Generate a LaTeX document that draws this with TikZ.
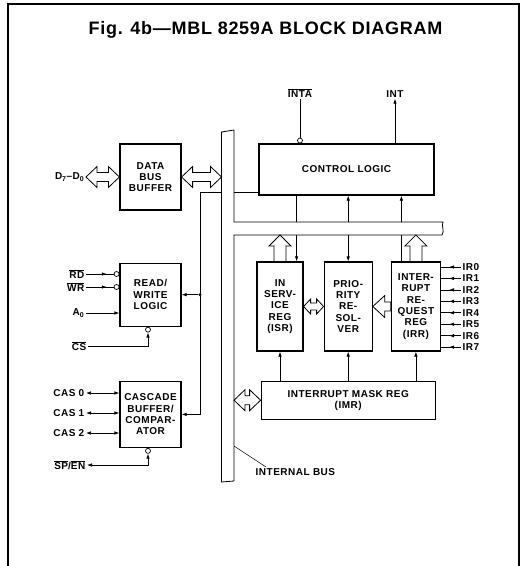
\documentclass[tikz,border=0pt]{standalone}
\usepackage{fontspec}
\usepackage{tikz}
\usetikzlibrary{arrows.meta, positioning, calc, decorations.markings}
\newfontfamily\lblfont[LetterSpace=5]{Liberation Sans}
\newfontfamily\titlefont[LetterSpace=4]{Liberation Sans}

% wide hollow arrows: {shaft half}{head half}{head length}
\tikzset{
    fatsgl/.style n args={3}{to path={let \p1=(\tikztostart), \p2=(\tikztotarget),
        \n1={atan2(\y2-\y1,\x2-\x1)}, \n2={veclen(\x2-\x1,\y2-\y1)} in
        {[shift={(\p1)}, rotate=\n1]
        (0,#1) -- ({\n2-#3},#1) -- ({\n2-#3},#2) -- (\n2,0)
        -- ({\n2-#3},-#2) -- ({\n2-#3},-#1) -- (0,-#1) -- cycle}}},
    fatdbl/.style n args={3}{to path={let \p1=(\tikztostart), \p2=(\tikztotarget),
        \n1={atan2(\y2-\y1,\x2-\x1)}, \n2={veclen(\x2-\x1,\y2-\y1)} in
        {[shift={(\p1)}, rotate=\n1]
        (0,0) -- (#3,#2) -- (#3,#1) -- ({\n2-#3},#1) -- ({\n2-#3},#2) -- (\n2,0)
        -- ({\n2-#3},-#2) -- ({\n2-#3},-#1) -- (#3,-#1) -- (#3,-#2) -- cycle}}},
}

\begin{document}
\begin{tikzpicture}[
    x=1pt, y=-1pt,
    >={Latex[length=5pt,width=3.5pt]},
    blk/.style={draw, line width=1.2pt, align=center, inner sep=0pt,
                font=\lblfont\bfseries\fontsize{10}{11.3}\selectfont},
    lbl/.style={inner sep=1.5pt, font=\lblfont\bfseries\fontsize{10}{11.3}\selectfont},
    wire/.style={line width=0.7pt},
    fat/.style={draw, fill=white, line width=0.8pt, line join=miter},
    bubble/.style={circle, draw, fill=white, line width=0.7pt, inner sep=0pt, minimum size=5pt},
    dot/.style={circle, fill, inner sep=0pt, minimum size=3.2pt},
    midarr/.style={postaction={decorate, decoration={markings,
                   mark=at position #1 with {\arrow{Latex[length=5pt,width=3.5pt]}}}}},
]
    \useasboundingbox (0,0) rectangle (522,566);
    \draw[line width=1.6pt] (8,566) -- (8,4) -- (519,4) -- (519,566);
    \node[font=\titlefont\bfseries\fontsize{18}{20}\selectfont, anchor=base] (title)
        at (265.5,34) {Fig. 4b—MBL 8259A BLOCK DIAGRAM};

    % blocks
    \node[blk, minimum width=61pt, minimum height=66pt] (dbb) at (150.5,177) {DATA\\BUS\\BUFFER};
    \node[blk, minimum width=61pt, minimum height=63pt, below=52pt of dbb] (rw) {READ/\\WRITE\\LOGIC};
    \node[blk, minimum width=61pt, minimum height=66pt, below=54pt of rw] (casbuf)
        {CASCADE\\BUFFER/\\COMPAR-\\ATOR};
    \node[blk, minimum width=175pt, minimum height=51pt] (ctrl) at (346.5,169.5) {CONTROL LOGIC};
    \node[blk, minimum width=46pt, minimum height=89pt] (isr) at (280,306.5) {IN\\SERV-\\ICE\\REG\\(ISR)};
    \node[blk, minimum width=48pt, minimum height=89pt, right=20pt of isr] (pr) {PRIO-\\RITY\\RE-\\SOL-\\VER};
    \node[blk, minimum width=49pt, minimum height=89pt, right=18pt of pr] (irr)
        {INTER-\\RUPT\\RE-\\QUEST\\REG\\(IRR)};
    \node[blk, minimum width=174pt, minimum height=38pt, below=29pt of pr] (imr)
        {INTERRUPT MASK REG\\(IMR)};

    % wires across the internal bus
    \coordinate (isrin) at ([xshift=-7pt]isr.north east);
    \coordinate (irrout) at ([xshift=-14.5pt]irr.north);
    \draw[wire, ->] (ctrl.south -| isrin) -- (isrin);
    \draw[wire, <->] (ctrl.south -| pr.north) -- (pr.north);
    \draw[wire, ->] (irrout) -- (ctrl.south -| irrout);

    % internal bus
    \coordinate (busw) at (221.5,300);
    \coordinate (buse) at (234,300);
    \coordinate (hbuss) at (300,235);
    \draw[line width=0.8pt, fill=white] (221.5,132) -- (221.5,482) -- (234,481) -- (234,235)
        -- (442,235) .. controls (445,231) and (441,226) .. (443,222) -- (234,222)
        -- (234,130) -- cycle;
    \coordinate (ctrltap) at ([yshift=3pt]ctrl.south west);
    \draw[wire] (ctrltap) -- (ctrltap -| buse);

    % wide arrows
    \node[lbl, anchor=east] (dlbl) at (86,177) {D\textsubscript{7}–D\textsubscript{0}};
    \draw[fat] (dlbl.east) to[fatdbl={4.5}{10.5}{11}] (dbb.west);
    \draw[fat] (dbb.east) to[fatdbl={4.5}{10.5}{11}] (dbb.east -| busw);
    \draw[fat] (isr.north) to[fatsgl={6}{11}{11}] (isr.north |- hbuss);
    \draw[fat] (irr.north) to[fatsgl={6}{11}{11}] (irr.north |- hbuss);
    \draw[fat] (isr.east) to[fatdbl={3.5}{7.5}{7}] (pr.west);
    \draw[fat] (irr.west) to[fatsgl={4.5}{11}{12}] (pr.east);
    \draw[fat] (imr.west -| buse) to[fatdbl={4.5}{10.5}{11}] (imr.west);

    % mask register
    \draw[wire, ->] (imr.north -| isr.south) -- (isr.south);
    \draw[wire, ->] (imr.north -| pr.south) -- (pr.south);
    \draw[wire, ->] (imr.north -| irr.south) -- (irr.south);

    % INTA / INT
    \node[lbl, anchor=base] (inta) at (300,97) {$\overline{\mbox{INTA}}$};
    \node[lbl, anchor=base] (int) at (395,97) {INT};
    \node[bubble, anchor=south] (intabub) at (ctrl.north -| inta) {};
    \draw[wire] (inta) -- (intabub);
    \draw[wire, ->] (ctrl.north -| int) -- (int);

    % read/write pins
    \node[lbl, anchor=east] (rdlbl) at (86,274) {$\overline{\mbox{RD}}$};
    \node[lbl, anchor=east] (wrlbl) at (86,287) {$\overline{\mbox{WR}}$};
    \node[lbl, anchor=east] (a0lbl) at (86,313) {A\textsubscript{0}};
    \node[lbl, anchor=east] (cslbl) at (88,346) {$\overline{\mbox{CS}}$};
    \node[bubble, anchor=east] (rdbub) at (rw.west |- rdlbl) {};
    \node[bubble, anchor=east] (wrbub) at (rw.west |- wrlbl) {};
    \node[bubble, anchor=north] (csbub) at ([xshift=-2.5pt]rw.south) {};
    \draw[wire, midarr=0.75] (rdlbl) -- (rdbub);
    \draw[wire, midarr=0.75] (wrlbl) -- (wrbub);
    \draw[wire, ->] (a0lbl) -- (a0lbl -| rw.west);
    \draw[wire, <-] (csbub) |- (cslbl);

    % cascade pins
    \foreach \i/\y in {0/393, 1/413, 2/433} {
        \node[lbl, anchor=east] (cas\i) at (86,\y) {CAS \i};
        \draw[wire, <->] (cas\i) -- (cas\i -| casbuf.west);
    }
    \node[lbl, anchor=east] (splbl) at (87,465) {$\overline{\mbox{SP}}$/$\overline{\mbox{EN}}$};
    \node[bubble, anchor=north] (spbub) at ([xshift=-2.5pt]casbuf.south) {};
    \draw[wire, <->] (spbub) |- (splbl);

    % left side to bus
    \coordinate (ltap) at (200,192);
    \draw[wire, ->] (ltap -| busw) -- (ltap) |- (casbuf.east);
    \node[dot] (rwtap) at (ltap |- rw.east) {};
    \draw[wire, ->] (rwtap) -- (rw.east);

    % interrupt request pins
    \foreach \i in {0,...,7} {
        \node[lbl, anchor=west] (ir\i) at (461,{267+11.45*\i}) {IR\i};
        \draw[wire, midarr=0.6] (ir\i) -- (ir\i -| irr.east);
    }

    \node[lbl, anchor=north west] (buslbl) at (254,467) {INTERNAL BUS};
    \coordinate (busmark) at (234,446);
    \draw[line width=0.5pt] (busmark) -- ([xshift=12pt]buslbl.north west);
\end{tikzpicture}
\end{document}
